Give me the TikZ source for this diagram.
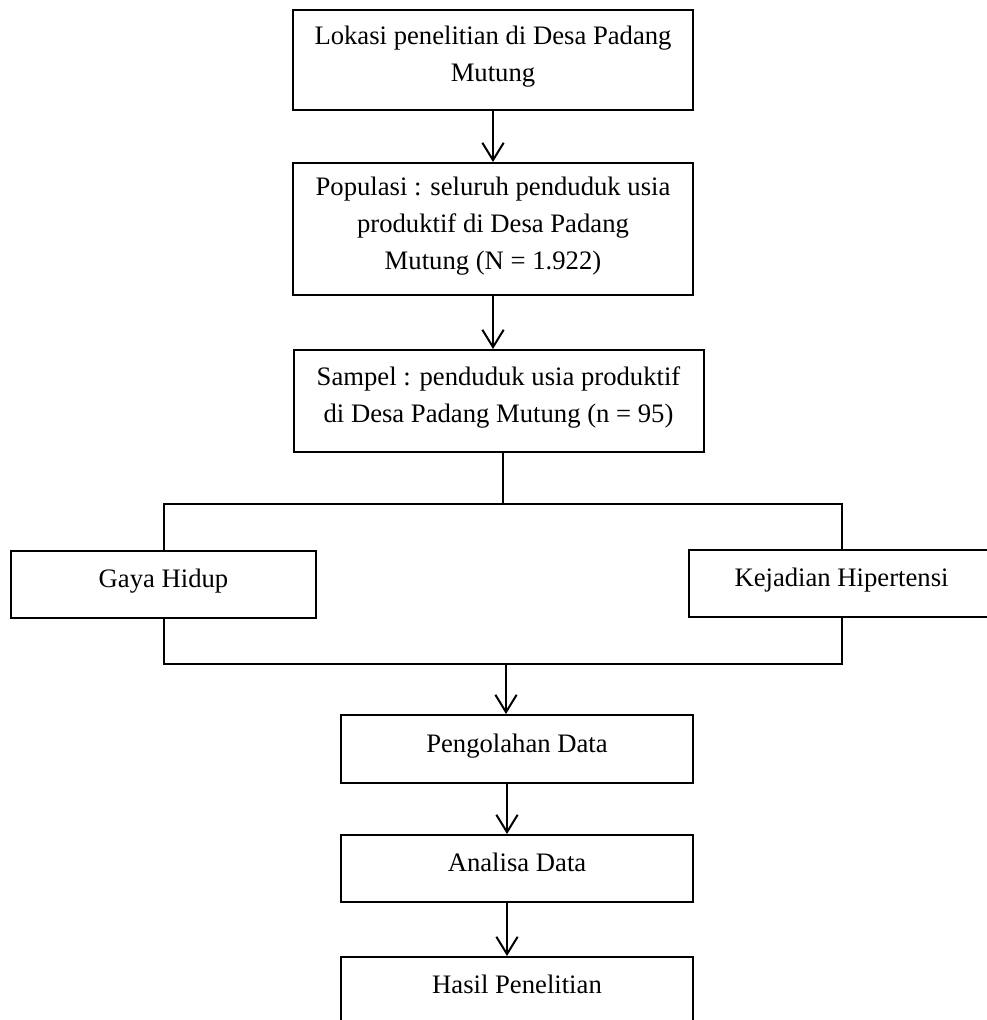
\documentclass[tikz,border=0pt]{standalone}
\usepackage{fontspec}
\setmainfont{Liberation Serif}
\usetikzlibrary{arrows.meta}
\begin{document}
\begin{tikzpicture}[x=0.75pt,y=-0.75pt,
  box/.style={draw=black, line width=1.5pt, rectangle, inner sep=0pt, align=center,
    text depth=9pt, font=\fontsize{20}{27.75}\selectfont},
  oneline/.style={text height=14pt},
  wide/.style={minimum width=300pt},
  low/.style={minimum width=264pt, oneline},
  side/.style={minimum width=228.75pt, minimum height=50.25pt, oneline},
  conn/.style={line width=1.5pt},
  arr/.style={line width=1.5pt, -{Straight Barb[length=13pt,width=16pt]}}]
\useasboundingbox (0,0) rectangle (987,1020);
\clip (0,0) rectangle (987,1020);
\fill[white] (0,0) rectangle (987,1020);
% boxes
\node[box, wide, minimum height=75pt] (b1) at (493,60) {Lokasi penelitian di Desa Padang\\Mutung};
\node[box, wide, minimum height=99pt] (b2) at (493,229) {Populasi : seluruh penduduk usia\\produktif di Desa Padang\\Mutung (N = 1.922)};
\node[box, minimum width=307.5pt, minimum height=76.5pt] (b3) at (498.5,401) {Sampel : penduduk usia produktif\\di Desa Padang Mutung (n = 95)};
\node[box, side] (g) at (163.5,584.5) {Gaya Hidup};
\node[box, side] (k) at (841.5,583.5) {Kejadian Hipertensi};
\node[box, low, minimum height=51pt] (b4) at (517,749) {Pengolahan Data};
\node[box, low, minimum height=50.25pt] (b5) at (517,868.5) {Analisa Data};
\node[box, low, minimum height=50.25pt] (b6) at (517,990.5) {Hasil Penelitian};
% junctions
\coordinate (j1) at (503,504);
\coordinate (j2) at (506,663.5);
\coordinate (j3) at (507,0);
% connectors
\draw[arr] (b1.south) -- (b1.south |- b2.north);
\draw[arr] (b2.south) -- (b2.south |- b3.north);
\draw[conn] (j1 |- b3.south) -- (j1);
\draw[conn] (g.north) -- (g.north |- j1) -- (k.north |- j1) -- (k.north);
\draw[conn] (g.south) -- (g.south |- j2) -- (k.south |- j2) -- (k.south);
\draw[arr] (j2) -- (j2 |- b4.north);
\draw[arr] (j3 |- b4.south) -- (j3 |- b5.north);
\draw[arr] (j3 |- b5.south) -- (j3 |- b6.north);
\end{tikzpicture}
\end{document}
